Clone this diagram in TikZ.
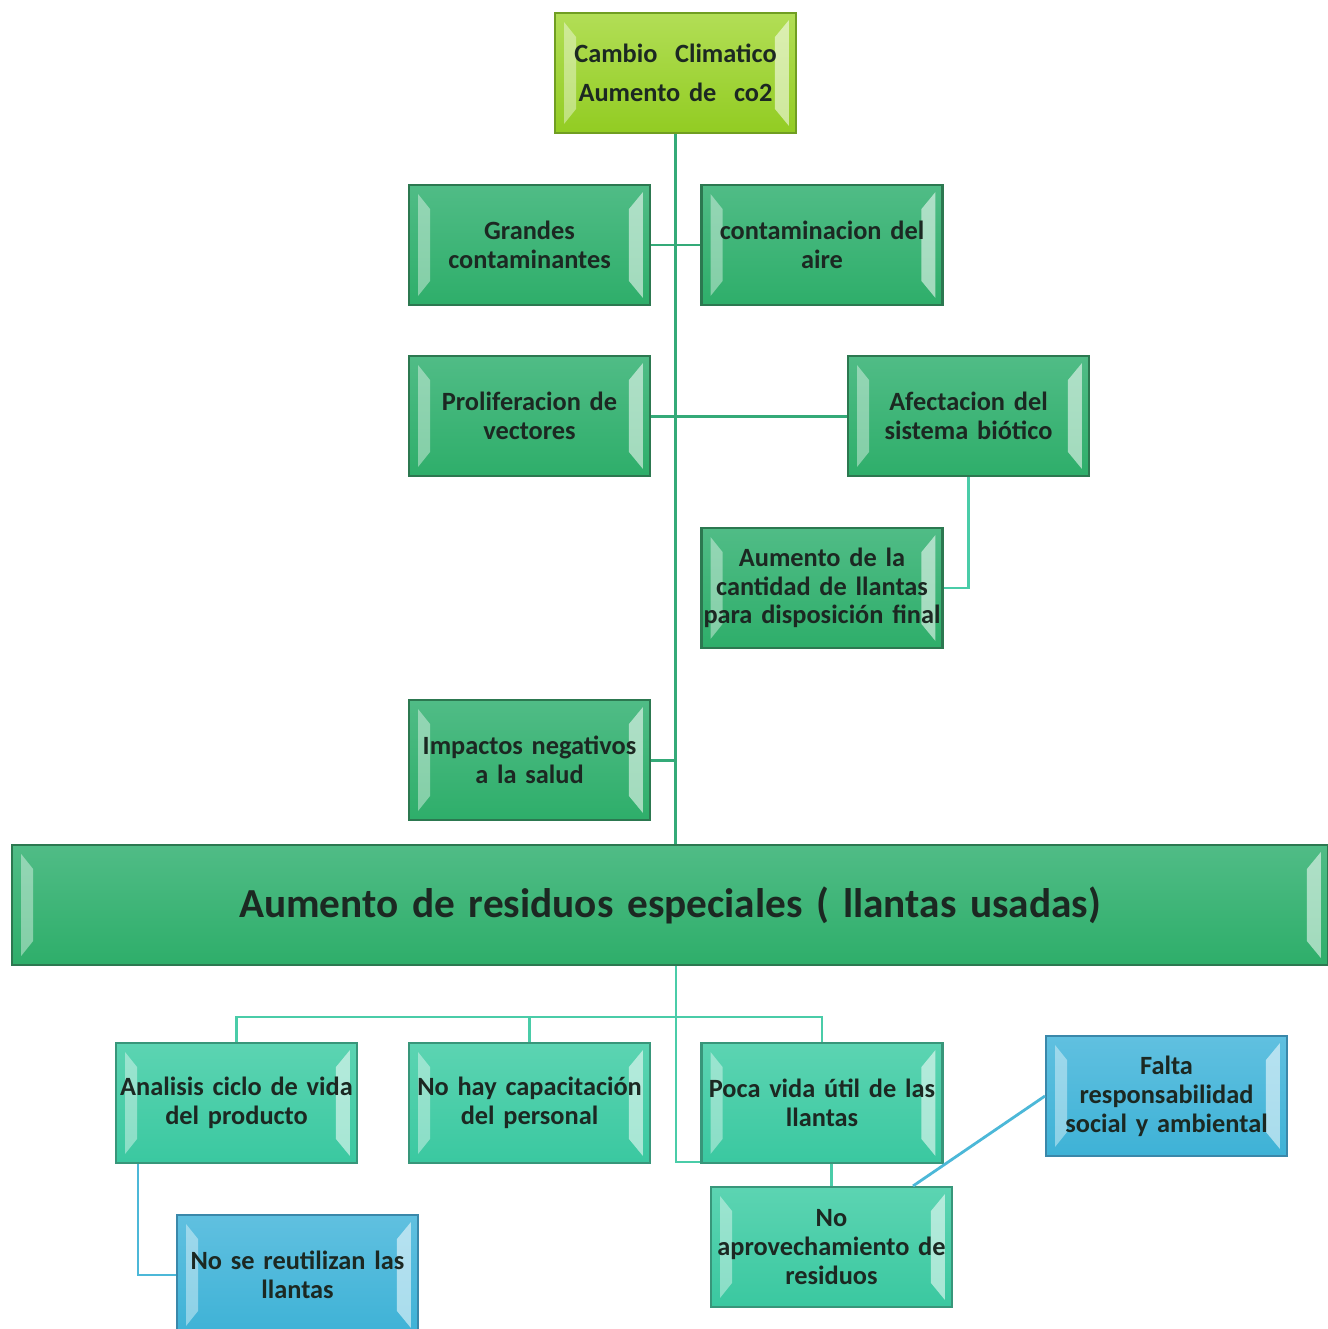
\documentclass[tikz,border=0pt]{standalone}
\usepackage{fontspec}
\setmainfont{Carlito}[WordSpace=0.7]
\usetikzlibrary{calc}
\definecolor{limetop}{RGB}{178,222,86}
\definecolor{limebot}{RGB}{146,204,34}
\definecolor{limeedge}{RGB}{112,158,34}
\definecolor{greentop}{RGB}{80,188,134}
\definecolor{greenbot}{RGB}{46,174,106}
\definecolor{greenedge}{RGB}{44,120,80}
\definecolor{tealtop}{RGB}{92,212,178}
\definecolor{tealbot}{RGB}{58,200,160}
\definecolor{tealedge}{RGB}{56,150,122}
\definecolor{bluetop}{RGB}{96,192,224}
\definecolor{bluebot}{RGB}{62,178,214}
\definecolor{blueedge}{RGB}{58,136,170}
\definecolor{textdark}{RGB}{28,40,34}
\definecolor{spinegreen}{RGB}{52,170,120}
\definecolor{linkteal}{RGB}{74,204,168}
\definecolor{linkblue}{RGB}{76,184,216}

\tikzset{
  bevelbox/.style={rectangle, line width=1.2pt, minimum width=4.82cm, minimum height=2.4cm,
    text width=4.8cm, align=center, inner sep=0pt, text=textdark,
    font=\fontsize{15}{16.4}\selectfont\bfseries,
    path picture={
      \fill[white,opacity=.4] ($(path picture bounding box.north west)+(9,9)$) -- ($(path picture bounding box.north west)+(21,24)$)
        -- ($(path picture bounding box.south west)+(21,-24)$) -- ($(path picture bounding box.south west)+(9,-9)$) -- cycle;
      \fill[white,opacity=.55] ($(path picture bounding box.north east)+(-7,7)$) -- ($(path picture bounding box.north east)+(-21,24)$)
        -- ($(path picture bounding box.south east)+(-21,-24)$) -- ($(path picture bounding box.south east)+(-7,-7)$) -- cycle;
    }},
  limebox/.style={bevelbox, draw=limeedge, top color=limetop, bottom color=limebot},
  greenbox/.style={bevelbox, draw=greenedge, top color=greentop, bottom color=greenbot},
  tealbox/.style={bevelbox, draw=tealedge, top color=tealtop, bottom color=tealbot},
  bluebox/.style={bevelbox, draw=blueedge, top color=bluetop, bottom color=bluebot},
  spine/.style={draw=spinegreen, line width=1.7pt},
  tealline/.style={draw=linkteal, line width=1.6pt},
  blueline/.style={draw=linkblue, line width=1.6pt}
}

\begin{document}
\begin{tikzpicture}[x=0.02cm, y=-0.02cm]
\useasboundingbox[fill=white] (0,0) rectangle (1328,1329);

% causes above
\node[limebox] (cc) at (675.5,73) {Cambio\ \ Climatico\\[6pt]Aumento de\ \ co2};
\node[greenbox] (gc) at (529.5,245) {Grandes\\contaminantes};
\node[greenbox] (ca) at (822,245) {contaminacion del\\aire};
\node[greenbox] (pv) at (529.5,416) {Proliferacion de\\vectores};
\node[greenbox] (ab) at (968.5,416) {Afectacion del\\sistema biótico};
\node[greenbox] (al) at (822,588) {Aumento de la\\cantidad de llantas\\para disposición final};
\node[greenbox] (ip) at (529.5,760) {Impactos negativos\\a la salud};

% central problem
\node[greenbox, minimum width=26.32cm, text width=26cm, font=\fontsize{23.5}{28}\selectfont\bfseries] (ar) at (670,905)
  {Aumento de residuos especiales ( llantas usadas)};

% effects below
\node[tealbox] (ac) at (236.5,1103) {Analisis ciclo de vida\\del producto};
\node[tealbox] (nc) at (529.5,1103) {No hay capacitación\\del personal};
\node[tealbox] (pu) at (822,1103) {Poca vida útil de las\\llantas};
\node[bluebox] (fr) at (1166.5,1096) {Falta\\responsabilidad\\social y ambiental};
\node[tealbox] (na) at (831.5,1247) {No\\aprovechamiento de\\residuos};
\node[bluebox] (nr) at (297.5,1275) {No se reutilizan las\\llantas};

% connectors
\draw[spine] (cc.south) -- (cc.south |- ar.north);
\draw[spine] (gc.east) -- (gc.east -| cc.south) -- (ca.west);
\draw[spine] (pv.east) -- (ab.west);
\draw[spine] (ip.east) -- (ip.east -| cc.south);
\draw[tealline] (ab.south) |- (al.east);

\coordinate (fork) at (676,1017);
\draw[tealline] (fork |- ar.south) -- (fork);
\draw[tealline] (ac.north) |- (fork) -| (pu.north);
\draw[tealline] (nc.north) -- (nc.north |- fork);
\draw[tealline] (fork) |- ($(pu.south west)+(0,-2)$);
\draw[tealline] (na.north) -- (na.north |- pu.south);
\draw[blueline] (fr.west) -- ($(na.north east)+(-40,0)$);
\draw[blueline] (nr.west) -| ($(ac.south west)+(23,0)$);
\end{tikzpicture}
\end{document}
